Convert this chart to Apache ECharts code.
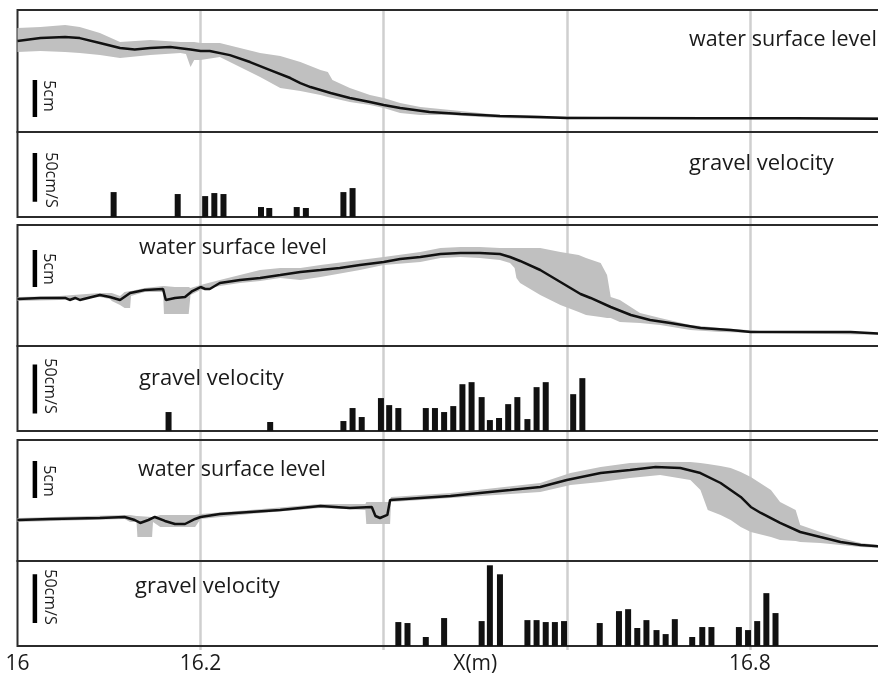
<!DOCTYPE html>
<html><head><meta charset="utf-8">
<script src="https://cdn.jsdelivr.net/npm/echarts@6/dist/echarts.min.js"></script>
<style>html,body{margin:0;padding:0;background:#fff}#c{width:878px;height:675px}</style>
</head><body><div id="c"></div>
<script>
// ---------- data (x in m, water level in cm, velocity in cm/s) ----------
const wsl1X = [16.0,16.025,16.052,16.068,16.09,16.112,16.128,16.145,16.167,16.189,16.2,16.21,16.232,16.254,16.276,16.298,16.309,16.32,16.342,16.363,16.385,16.4,16.418,16.45,16.484,16.527,16.571,16.6,16.65,16.75,16.85,16.95];
const wsl1Y = [12.3,12.7,12.84,12.7,12.03,11.35,11.15,11.35,11.49,11.15,10.95,10.95,10.4,9.46,8.38,7.3,6.62,6.08,5.27,4.59,4.05,3.65,3.24,2.7,2.43,2.16,2.03,1.89,1.89,1.85,1.85,1.8];
const band1X = [16.0,16.025,16.052,16.068,16.09,16.112,16.145,16.178,16.184,16.189,16.193,16.2,16.221,16.243,16.265,16.287,16.309,16.331,16.339,16.344,16.363,16.385,16.4,16.418,16.44,16.473,16.505,16.527,16.571,16.637,16.95];
const band1High = [14.05,14.19,14.46,14.19,13.38,12.16,12.43,12.16,12.16,12.16,12.16,12.03,12.03,11.35,10.68,10.27,9.46,8.38,8.11,7.03,5.95,5.0,4.59,3.92,3.38,2.97,2.57,2.3,2.16,2.03,2.03];
const band1Low = [10.81,10.95,10.81,10.68,10.41,10.0,10.41,10.68,10.54,8.78,9.73,9.73,10.14,8.78,7.43,5.95,5.54,5.0,4.73,4.59,4.05,3.65,3.24,2.57,2.3,2.3,2.03,1.89,1.76,1.76,1.7];

const wsl2X = [16.0,16.025,16.052,16.057,16.063,16.068,16.09,16.101,16.112,16.123,16.139,16.159,16.162,16.164,16.172,16.183,16.191,16.2,16.205,16.21,16.221,16.243,16.265,16.287,16.309,16.331,16.352,16.374,16.4,16.418,16.44,16.462,16.484,16.505,16.527,16.538,16.549,16.571,16.593,16.604,16.615,16.626,16.648,16.67,16.691,16.713,16.746,16.779,16.801,16.855,16.91,16.95];
const wsl2Y = [6.35,6.49,6.49,6.22,6.49,6.22,6.89,6.62,6.22,7.16,7.57,7.7,6.22,6.08,6.49,6.62,7.43,7.97,7.7,7.7,8.51,8.92,9.19,9.59,10.0,10.27,10.54,10.95,11.35,11.76,12.03,12.43,12.57,12.57,12.43,12.03,11.49,10.27,8.65,7.84,7.03,6.49,5.27,4.19,3.51,3.11,2.43,2.16,1.89,1.89,1.89,1.62];
const band2X = [16.0,16.046,16.09,16.101,16.103,16.112,16.117,16.123,16.124,16.139,16.159,16.16,16.172,16.187,16.189,16.2,16.221,16.243,16.265,16.287,16.309,16.331,16.374,16.4,16.44,16.462,16.484,16.505,16.527,16.538,16.543,16.545,16.549,16.571,16.593,16.613,16.621,16.637,16.644,16.648,16.658,16.68,16.702,16.735,16.768,16.811,16.95];
const band2High = [6.62,6.76,7.16,7.16,7.16,6.76,7.3,7.43,7.43,7.84,8.11,8.11,7.97,7.97,7.84,8.24,8.92,9.59,10.27,10.54,10.54,10.95,11.62,12.03,12.7,13.24,13.38,13.38,13.24,13.24,13.24,13.24,13.24,13.24,12.7,12.3,11.89,11.22,9.59,6.62,6.22,4.46,3.78,2.84,2.43,2.03,1.76];
const band2Low = [6.08,6.22,6.62,6.35,6.08,5.54,5.14,5.14,6.76,7.3,7.3,4.32,4.32,4.32,6.89,7.57,8.11,8.51,8.78,9.19,8.92,9.32,10.27,10.95,11.35,11.89,12.03,11.89,11.62,11.22,10.54,9.19,8.51,6.89,5.54,4.59,4.19,3.92,3.78,3.78,3.24,3.11,2.84,2.16,1.89,1.76,1.49];

const wsl3X = [16.0,16.036,16.09,16.117,16.128,16.134,16.143,16.15,16.161,16.172,16.183,16.194,16.2,16.221,16.254,16.287,16.331,16.363,16.387,16.391,16.396,16.404,16.407,16.44,16.473,16.505,16.538,16.571,16.6,16.637,16.669,16.697,16.724,16.746,16.768,16.79,16.801,16.812,16.833,16.855,16.877,16.899,16.921,16.95];
const wsl3Y = [5.54,5.68,5.81,5.95,5.54,5.14,5.54,5.95,5.41,5.0,5.0,5.68,5.95,6.35,6.62,6.89,7.43,7.16,7.3,6.08,5.81,6.22,8.24,8.51,8.78,9.19,9.59,10.0,10.95,11.89,12.3,12.7,12.57,11.89,10.54,8.65,7.3,6.49,5.14,3.92,3.24,2.57,2.16,1.89];
const band3X = [16.0,16.117,16.123,16.13,16.131,16.147,16.148,16.156,16.194,16.2,16.254,16.331,16.38,16.381,16.407,16.408,16.473,16.571,16.604,16.637,16.669,16.702,16.735,16.746,16.754,16.768,16.779,16.79,16.801,16.823,16.833,16.85,16.855,16.877,16.899,16.921,16.95];
const band3High = [5.81,6.22,6.22,6.08,6.08,5.95,5.95,6.22,6.22,6.35,6.89,7.7,7.7,7.97,7.97,8.65,9.19,10.54,11.89,12.7,13.24,13.38,13.38,13.24,13.11,12.84,12.57,12.03,11.35,9.59,7.97,6.89,4.86,3.92,3.11,2.43,2.03];
const band3Low = [5.27,5.68,5.27,5.27,3.24,3.24,5.27,4.59,4.59,5.68,6.35,7.16,6.89,5.0,5.0,7.97,8.51,9.32,10.27,10.68,11.22,11.62,10.95,9.59,6.89,6.22,5.54,4.59,3.92,3.24,2.84,2.7,2.57,2.43,2.16,1.89,1.76];

const gv1X = [16.105,16.175,16.205,16.215,16.225,16.266,16.275,16.305,16.315,16.356,16.366];
const gv1V = [25.5,23.5,21.4,24.5,23.5,10.2,9.2,10.2,9.2,25.5,29.6];
const gv2X = [16.165,16.276,16.356,16.366,16.376,16.397,16.406,16.416,16.446,16.456,16.466,16.476,16.486,16.496,16.507,16.516,16.526,16.536,16.546,16.557,16.567,16.577,16.607,16.617];
const gv2V = [19.4,9.2,10.2,23.5,14.3,33.7,26.5,23.5,23.5,23.5,19.4,25.5,47.9,50,34.7,11.2,13.3,27.5,34.7,12.2,44.9,50,37.7,54.1];
const gv3X = [16.416,16.426,16.446,16.466,16.507,16.516,16.527,16.557,16.567,16.577,16.587,16.597,16.636,16.657,16.667,16.677,16.687,16.698,16.708,16.718,16.737,16.748,16.758,16.788,16.798,16.808,16.818,16.828];
const gv3V = [24.5,23.5,9.2,28.6,25.5,82.6,73.4,26.5,26.5,24.5,24.5,25.5,23.5,35.7,37.7,18.4,26.5,16.3,12.2,27.5,9.2,19.4,19.4,19.4,16.3,25.5,54.1,33.7];

// scale bars (data units)
const scaleBarX = 16.019;
const wslScaleLen = 5;      // cm
const gvScaleLen = 50;      // cm/s
const wslScaleStart = [2.03, 7.97, 8.51];
const gvScaleStart = [15.5, 18, 23.5];
const wslScaleLabel = '5cm';
const gvScaleLabel = '50cm/S';

// texts / ticks
const wslTitle = 'water surface level';
const gvTitle = 'gravel velocity';
const xTickLabels = [[16, '16'], [16.2, '16.2'], [16.5, 'X(m)'], [16.8, '16.8']];

// ---------- chart ----------
const chart = echarts.init(document.getElementById('c'));
const XMIN = 16, XMAX = 16.95, LEFT = 17.5, WIDTH = 869.7;
const FONT = '"Open Sans", "Noto Sans", sans-serif';
const panels = [
  {top: 10, height: 122, ymax: 16.5},
  {top: 132, height: 85, ymax: 87},
  {top: 225, height: 121, ymax: 16.35},
  {top: 346, height: 85, ymax: 87},
  {top: 440, height: 121, ymax: 16.35},
  {top: 561, height: 85, ymax: 87}
];
const grids = panels.map(p => ({left: LEFT, width: WIDTH, top: p.top, height: p.height,
  outerBoundsMode: 'none', containLabel: false,
  show: true, borderColor: '#2b2b2b', borderWidth: 2, backgroundColor: 'transparent'}));
grids.push({left: LEFT, width: WIDTH, top: 10, height: 640, show: false, outerBoundsMode: 'none', containLabel: false});

const xAxes = panels.map((p, i) => {
  const base = {gridIndex: i, type: 'value', min: XMIN, max: XMAX,
    axisLine: {show: false}, axisTick: {show: false}, splitLine: {show: false}};
  if (i === 5) {
    return Object.assign(base, {show: true, interval: 0.1,
      axisLabel: {show: true, margin: 8, color: '#1a1a1a', fontSize: 21, fontFamily: FONT,
        showMinLabel: true, showMaxLabel: false,
        formatter: v => { for (const t of xTickLabels) if (Math.abs(v - t[0]) < 1e-6) return t[1]; return ''; }}});
  }
  return Object.assign(base, {show: false});
});
xAxes.push({gridIndex: 6, type: 'value', min: XMIN, max: XMAX, interval: 0.2, z: -1,
  axisLine: {show: false}, axisTick: {show: false}, axisLabel: {show: false},
  splitLine: {show: true, showMinLine: false, showMaxLine: false, lineStyle: {color: '#cfcfcf', width: 2.5}}});
const yAxes = panels.map((p, i) => ({gridIndex: i, type: 'value', min: 0, max: p.ymax, show: false}));
yAxes.push({gridIndex: 6, type: 'value', min: 0, max: 1, show: false});

const series = [];
function wslPanel(idx, lx, ly, bx, blow, bhigh) {
  series.push({type: 'custom', xAxisIndex: idx, yAxisIndex: idx, clip: true,
    data: bx.map((x, i) => [x, blow[i], bhigh[i]]),
    encode: {x: 0, y: [1, 2]},
    renderItem: (params, api) => {
      if (params.dataIndex !== 0) return null;
      const pts = [];
      for (let i = 0; i < bx.length; i++) pts.push(api.coord([bx[i], bhigh[i]]));
      for (let i = bx.length - 1; i >= 0; i--) pts.push(api.coord([bx[i], blow[i]]));
      return {type: 'polygon', shape: {points: pts}, style: {fill: '#c0c0c0'}};
    }});
  series.push({type: 'line', xAxisIndex: idx, yAxisIndex: idx, symbol: 'none',
    lineStyle: {color: '#111', width: 2.5}, data: lx.map((x, i) => [x, ly[i]])});
}
function gvPanel(idx, gx, gv) {
  series.push({type: 'bar', xAxisIndex: idx, yAxisIndex: idx, barWidth: 6,
    itemStyle: {color: '#111'}, data: gx.map((x, i) => [x, gv[i]])});
}
function scaleBar(idx, start, len) {
  series.push({type: 'line', xAxisIndex: idx, yAxisIndex: idx, symbol: 'none',
    lineStyle: {color: '#000', width: 4.5}, data: [[scaleBarX, start], [scaleBarX, start + len]]});
}
wslPanel(0, wsl1X, wsl1Y, band1X, band1Low, band1High);
wslPanel(2, wsl2X, wsl2Y, band2X, band2Low, band2High);
wslPanel(4, wsl3X, wsl3Y, band3X, band3Low, band3High);
gvPanel(1, gv1X, gv1V);
gvPanel(3, gv2X, gv2V);
gvPanel(5, gv3X, gv3V);
[0, 2, 4].forEach((p, k) => scaleBar(p, wslScaleStart[k], wslScaleLen));
[1, 3, 5].forEach((p, k) => scaleBar(p, gvScaleStart[k], gvScaleLen));

function txt(s, x, y, size, rot) {
  return {type: 'text', x: x, y: y, rotation: rot || 0, z: 10,
    style: {text: s, font: size + 'px ' + FONT, fill: '#1a1a1a',
      align: rot ? 'center' : 'left', textAlign: rot ? 'center' : 'left',
      verticalAlign: 'middle', textVerticalAlign: 'middle'}};
}
const R = -Math.PI / 2;
const graphic = [
  txt(wslTitle, 689, 40, 21.5), txt(gvTitle, 689, 164, 22),
  txt(wslTitle, 139, 248, 21.5), txt(gvTitle, 139, 379, 22),
  txt(wslTitle, 138, 470, 21.5), txt(gvTitle, 135, 587, 22),
  txt(wslScaleLabel, 49, 96, 16, R), txt(wslScaleLabel, 49, 269, 16, R), txt(wslScaleLabel, 49, 481, 16, R),
  txt(gvScaleLabel, 51, 180, 16, R), txt(gvScaleLabel, 50, 386, 16, R), txt(gvScaleLabel, 50, 597, 16, R)
];

chart.setOption({
  backgroundColor: '#fff', animation: false,
  grid: grids, xAxis: xAxes, yAxis: yAxes, series: series, graphic: graphic
});
</script></body></html>
